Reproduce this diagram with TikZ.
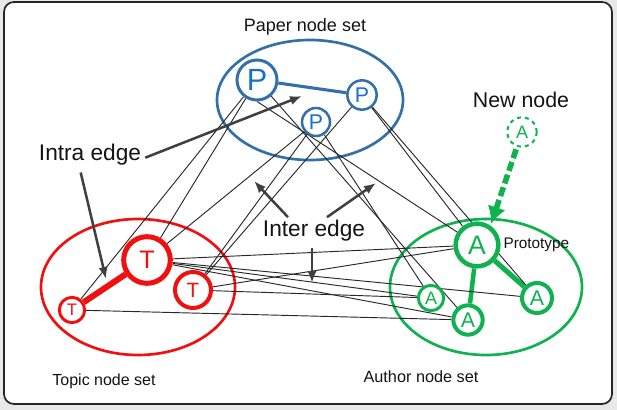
\documentclass[tikz,border=0pt]{standalone}
\usepackage{fontspec}
\setmainfont{Liberation Sans}
\usetikzlibrary{arrows.meta,calc,positioning}
\definecolor{PaperBlue}{RGB}{52,112,168}
\definecolor{PaperLetter}{RGB}{24,112,204}
\definecolor{TopicRed}{RGB}{240,16,16}
\definecolor{AuthorGreen}{RGB}{16,178,80}
\definecolor{ArrowGray}{RGB}{64,64,64}
\definecolor{EdgeGray}{RGB}{40,40,40}
\definecolor{FrameGray}{RGB}{232,232,232}
\pgfdeclarelayer{bg}
\pgfdeclarelayer{edges}
\pgfsetlayers{bg,edges,main}

\begin{document}
\begin{tikzpicture}[x=0.75pt,y=-0.75pt,>=Latex,
    lbl/.style={font=\fontsize{#1}{#1}\selectfont,text=black!92,inner sep=0pt},
    vtx/.style={circle,fill=white,inner sep=0pt},
    pnode/.style={vtx,draw=PaperBlue,text=PaperLetter},
    tnode/.style={vtx,draw=TopicRed,text=TopicRed},
    anode/.style={vtx,draw=AuthorGreen,text=AuthorGreen},
    inter/.style={EdgeGray,line width=0.7pt},
    hint/.style={->,ArrowGray,line width=1.9pt,
      arrows={-Latex[length=9pt,width=7pt]}}]
  % frame
  \begin{pgfonlayer}{bg}
    \fill[FrameGray] (0,0) rectangle (617,410);
    \draw[fill=white,draw=black!85,line width=1.3pt,rounded corners=7.5pt]
      (4,2) rectangle (612,404);
    % node sets
    \draw[PaperBlue,line width=2pt] (310,100) ellipse [x radius=93,y radius=60];
    \draw[TopicRed,line width=2pt] (138,287) ellipse [x radius=97,y radius=68];
    \draw[AuthorGreen,line width=2pt] (486,287) ellipse [x radius=96,y radius=68];
  \end{pgfonlayer}
  \node[lbl=13.5pt] (paperLbl) at (305,27) {Paper node set};
  \node[lbl=12pt] (topicLbl) at (104,381) {Topic node set};
  \node[lbl=12.2pt] (authorLbl) at (421,377) {Author node set};

  % paper nodes
  \node[pnode,line width=2.25pt,minimum size=30pt,font=\fontsize{23pt}{23pt}\selectfont]
    (p1) at (257,80) {P};
  \node[pnode,line width=1.9pt,minimum size=22pt,font=\fontsize{16pt}{16pt}\selectfont]
    (p2) at (362,95) {P};
  \node[pnode,line width=1.9pt,minimum size=21pt,font=\fontsize{16pt}{16pt}\selectfont]
    (p3) at (316,122) {P};
  % topic nodes
  \node[tnode,line width=3.75pt,minimum size=35pt,font=\fontsize{19pt}{19pt}\selectfont]
    (t1) at (147,260) {T};
  \node[tnode,line width=3pt,minimum size=27pt,font=\fontsize{15.5pt}{15.5pt}\selectfont]
    (t2) at (193,290) {T};
  \node[tnode,line width=2.25pt,minimum size=19pt,font=\fontsize{12.5pt}{12.5pt}\selectfont]
    (t3) at (72,310) {T};
  % author nodes
  \node[anode,line width=3.4pt,minimum size=32pt,font=\fontsize{20pt}{20pt}\selectfont]
    (a1) at (477,245) {A};
  \node[anode,line width=3pt,minimum size=22.5pt,font=\fontsize{16pt}{16pt}\selectfont]
    (a2) at (537,298) {A};
  \node[anode,line width=3pt,minimum size=22pt,font=\fontsize{16pt}{16pt}\selectfont]
    (a3) at (468,320) {A};
  \node[anode,line width=2.25pt,minimum size=19pt,font=\fontsize{13.5pt}{13.5pt}\selectfont]
    (a4) at (431,298) {A};
  \node[lbl=11.5pt,right=2pt of a1] (protoLbl) {Prototype};

  % new node
  \node[anode,dashed,line width=1.5pt,minimum size=22pt,font=\fontsize{13.5pt}{13.5pt}\selectfont]
    (anew) at (522,132) {A};
  \node[lbl=16pt] (newLbl) at (521,100) {New node};

  \begin{pgfonlayer}{edges}
    % intra edges
    \draw[PaperBlue,line width=2.3pt] (p1) -- (p2);
    \draw[TopicRed,line width=4.5pt] (t1) -- (t3);
    \draw[AuthorGreen,line width=3.8pt] (a1) -- (a2);
    \draw[AuthorGreen,line width=3.4pt] (a1) -- (a3);
    % inter edges
    \draw[inter] (t3) -- (p1);
    \draw[inter] (t1) -- (p1);
    \draw[inter] (t1) -- (p3);
    \draw[inter] (t2) -- (p2);
    \draw[inter] (t2) -- (p3);
    \draw[inter] (p1.south) -- (a1);
    \draw[inter] (p1) -- (a3);
    \draw[inter] (p2) -- (a1);
    \draw[inter] (p2) -- (a2);
    \draw[inter] (p3) -- (a4);
    \draw[inter] (t1) -- (a1);
    \draw[inter] (t1) -- (a2);
    \draw[inter] (t1) -- (a3);
    \draw[inter] (t1) -- (a4);
    \draw[inter] (t2) -- (a1);
    \draw[inter] (t2) -- (a4);
    \draw[inter] (t3) -- (a3);
  \end{pgfonlayer}

  % hints
  \node[lbl=17pt] (intraLbl) at (90,155) {Intra edge};
  \coordinate (intraTip1) at (302,96);
  \coordinate (intraTip2) at (106,279);
  \draw[hint] ([xshift=3pt,yshift=-2pt]intraLbl.east) -- (intraTip1);
  \draw[hint] ([xshift=-7pt,yshift=-5pt]intraLbl.south) -- (intraTip2);

  \node[lbl=17pt] (interLbl) at (314,231) {Inter edge};
  \coordinate (interTip1) at (254,181);
  \coordinate (interTip2) at (376,183);
  \coordinate (interTip3) at (312,283);
  \draw[hint] ($(interLbl.north)+(-26,-3)$) -- (interTip1);
  \draw[hint] ($(interLbl.north)+(13,-3)$) -- (interTip2);
  \draw[hint] ($(interLbl.south)+(-2,6)$) -- (interTip3);

  \coordinate (newTip) at (491,224);
  \draw[AuthorGreen,line width=4.2pt,dash pattern=on 7pt off 3pt,
    arrows={-Latex[length=13pt,width=14pt]},shorten <=2pt] (anew) -- (newTip);
\end{tikzpicture}
\end{document}
